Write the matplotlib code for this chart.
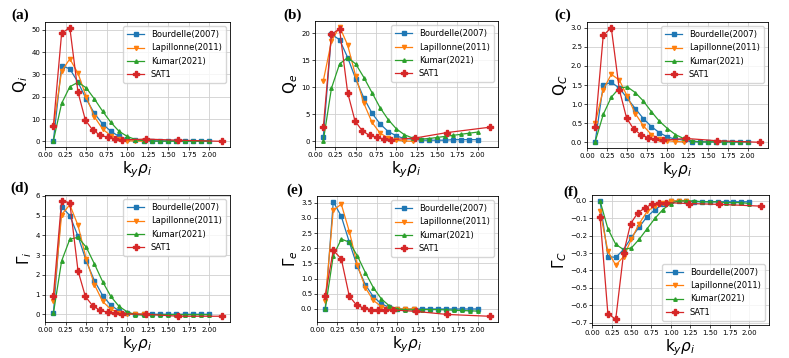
import matplotlib
matplotlib.use("Agg")
import matplotlib.pyplot as plt
import numpy as np

# grillas de ky*rho_i
x_bourdelle = [0.1, 0.2, 0.3, 0.4, 0.5, 0.6, 0.7, 0.8, 0.9, 1.0,
               1.1, 1.2, 1.3, 1.4, 1.5, 1.6, 1.7, 1.8, 1.9, 2.0]
x_lapillonne = [0.1, 0.2, 0.3, 0.4, 0.5, 0.6, 0.7, 0.8, 0.9, 1.0, 1.1, 1.2]
x_kumar = x_bourdelle
x_sat1 = [0.1, 0.2, 0.3, 0.4, 0.49, 0.58, 0.67, 0.76, 0.85, 0.94, 1.23, 1.62, 2.15]

etiquetas = ["Bourdelle(2007)", "Lapillonne(2011)", "Kumar(2021)", "SAT1"]
paneles = ["(a)", "(b)", "(c)", "(d)", "(e)", "(f)"]
ylabels = ["Q$_i$", "Q$_e$", "Q$_C$", r"$\Gamma_i$", r"$\Gamma_e$", r"$\Gamma_C$"]

# (a) Q_i
qi_bourdelle = [0.3, 34, 32.5, 26.5, 19, 12.5, 7.8, 4.5, 2.2, 1.0, 0.5, 0.3, 0.2, 0.2, 0.2, 0.2, 0.2, 0.2, 0.2, 0.2]
qi_lapillonne = [6.5, 31.5, 37, 30.5, 20, 11, 5.5, 2.5, 1.0, 0.3, 0.1, 0.05]
qi_kumar = [0.3, 17, 24.5, 26.5, 24, 19, 13.5, 8.5, 4.5, 2.2, 0.8, 0.3, 0.1, 0.05, 0.05, 0.05, 0.05, 0.05, 0.05, 0.05]
qi_sat1 = [7, 48.5, 51, 22, 9.5, 5, 2.8, 1.8, 1.2, 0.6, 1.0, 0.5, 0.0]

# (b) Q_e
qe_bourdelle = [0.8, 19.8, 18.8, 15.5, 11.5, 8.0, 5.2, 3.2, 1.8, 1.0, 0.5, 0.4, 0.2, 0.2, 0.2, 0.2, 0.3, 0.3, 0.3, 0.3]
qe_lapillonne = [11.2, 18.5, 21.2, 17.8, 12.0, 7.0, 3.5, 1.5, 0.6, 0.2, 0.05, 0.0]
qe_kumar = [0.1, 9.8, 14.3, 15.5, 14.3, 11.8, 9.0, 6.2, 4.0, 2.3, 1.2, 0.6, 0.4, 0.5, 0.7, 0.9, 1.1, 1.3, 1.5, 1.7]
qe_sat1 = [2.6, 19.8, 20.8, 9.0, 3.8, 1.9, 1.1, 0.7, 0.4, 0.3, 0.6, 1.6, 2.6]

# (c) Q_C
qc_bourdelle = [0.02, 1.5, 1.57, 1.42, 1.15, 0.88, 0.62, 0.41, 0.25, 0.14, 0.08, 0.06, 0.01, 0.01, 0.01, 0.01, 0.01, 0.01, 0.01, 0.02]
qc_lapillonne = [0.5, 1.38, 1.78, 1.63, 1.2, 0.75, 0.43, 0.2, 0.08, 0.04, 0.02, 0.01]
qc_kumar = [0.02, 0.73, 1.18, 1.42, 1.45, 1.3, 1.08, 0.8, 0.55, 0.36, 0.2, 0.1, 0.04, 0.01, 0.01, 0.01, 0.01, 0.01, 0.01, 0.01]
qc_sat1 = [0.4, 2.8, 3.0, 1.38, 0.64, 0.34, 0.2, 0.12, 0.08, 0.05, 0.1, 0.04, 0.0]

# (d) Gamma_i
gi_bourdelle = [0.05, 5.45, 5.0, 3.95, 2.7, 1.7, 0.95, 0.45, 0.18, 0.05, 0.0, 0.0, 0.0, 0.0, 0.0, 0.0, 0.0, 0.0, 0.0, 0.0]
gi_lapillonne = [0.65, 5.05, 5.55, 4.5, 2.8, 1.5, 0.65, 0.25, 0.07, 0.02, 0.0, 0.0]
gi_kumar = [0.05, 2.7, 3.8, 3.9, 3.4, 2.55, 1.65, 0.9, 0.4, 0.12, -0.02, -0.05, -0.03, -0.02, -0.02, -0.02, -0.02, -0.02, -0.02, -0.02]
gi_sat1 = [0.95, 5.75, 5.65, 2.2, 0.9, 0.42, 0.2, 0.1, 0.05, 0.02, 0.0, -0.1, -0.1]

# (e) Gamma_e
ge_bourdelle = [0.0, 3.53, 3.05, 2.2, 1.4, 0.8, 0.4, 0.17, 0.05, 0.0, 0.0, 0.0, 0.0, 0.0, 0.0, 0.0, 0.0, 0.0, 0.0, 0.0]
ge_lapillonne = [0.25, 3.25, 3.45, 2.55, 1.45, 0.7, 0.28, 0.08, 0.02, 0.0, 0.0, 0.0]
ge_kumar = [0.0, 1.75, 2.3, 2.2, 1.75, 1.2, 0.7, 0.33, 0.1, 0.0, -0.03, -0.03, -0.02, -0.02, -0.02, -0.03, -0.04, -0.05, -0.06, -0.07]
ge_sat1 = [0.43, 1.93, 1.65, 0.42, 0.13, 0.03, -0.02, -0.02, -0.02, -0.03, -0.08, -0.18, -0.24]

# (f) Gamma_C
gc_bourdelle = [0.0, -0.32, -0.325, -0.28, -0.21, -0.15, -0.09, -0.05, -0.02, 0.0, 0.0, 0.0, -0.005, -0.005, -0.005, -0.005, -0.005, -0.005, -0.005, -0.005]
gc_lapillonne = [-0.06, -0.29, -0.37, -0.32, -0.22, -0.13, -0.06, -0.03, -0.01, 0.0, 0.0, 0.0]
gc_kumar = [0.0, -0.16, -0.25, -0.28, -0.27, -0.22, -0.16, -0.1, -0.05, -0.015, 0.0, 0.0, 0.0, -0.005, -0.005, -0.005, -0.01, -0.01, -0.01, -0.015]
gc_sat1 = [-0.09, -0.65, -0.68, -0.3, -0.13, -0.07, -0.04, -0.02, -0.01, -0.01, -0.015, -0.02, -0.03]

datos = [
    (qi_bourdelle, qi_lapillonne, qi_kumar, qi_sat1),
    (qe_bourdelle, qe_lapillonne, qe_kumar, qe_sat1),
    (qc_bourdelle, qc_lapillonne, qc_kumar, qc_sat1),
    (gi_bourdelle, gi_lapillonne, gi_kumar, gi_sat1),
    (ge_bourdelle, ge_lapillonne, ge_kumar, ge_sat1),
    (gc_bourdelle, gc_lapillonne, gc_kumar, gc_sat1),
]

# posiciones de los ejes en pixeles (izq, der, arriba, abajo)
W, H = 789, 358
cajas = [
    (45, 230, 22, 147), (315, 498, 21, 147), (587, 768, 22, 148),
    (45, 230, 195, 322), (317, 498, 196, 322), (592, 769, 195, 325),
]
pos_paneles = [(20, 15), (293, 15), (563, 15), (20, 188), (295, 190), (571, 192)]

colores = ["#1f77b4", "#ff7f0e", "#2ca02c", "#d62728"]
marcadores = ["s", "v", "^", "P"]
tamanos = [3, 3, 2.5, 4]

fig = plt.figure(figsize=(W / 100, H / 100), dpi=100)

for i, (serie, caja) in enumerate(zip(datos, cajas)):
    l, r, t, b = caja
    ax = fig.add_axes([l / W, 1 - b / H, (r - l) / W, (b - t) / H])
    xs = [x_bourdelle, x_lapillonne, x_kumar, x_sat1]
    for x, y, c, m, s, lab in zip(xs, serie, colores, marcadores, tamanos, etiquetas):
        ax.plot(x, y, color=c, marker=m, markersize=s, linewidth=0.9, label=lab)
    ax.grid(True, color="#d0d0d0", linewidth=0.6)
    ax.set_axisbelow(True)
    ax.set_xticks(np.arange(0, 2.01, 0.25))
    ax.tick_params(labelsize=5, length=2, width=0.5, pad=1.5)
    for sp in ax.spines.values():
        sp.set_linewidth(0.6)
    ax.set_xlabel(r"k$_y\rho_i$", fontsize=11, labelpad=1)
    ax.set_ylabel(ylabels[i], fontsize=11, labelpad=1)
    loc = "lower right" if i == 5 else "upper right"
    ax.legend(loc=loc, fontsize=6, handlelength=2, borderpad=0.5, labelspacing=0.5)
    px, py = pos_paneles[i]
    fig.text(px / W, 1 - py / H, paneles[i], fontsize=11, fontweight="bold",
             family="Liberation Serif", ha="center", va="center")

fig.savefig("out.png", dpi=100)
